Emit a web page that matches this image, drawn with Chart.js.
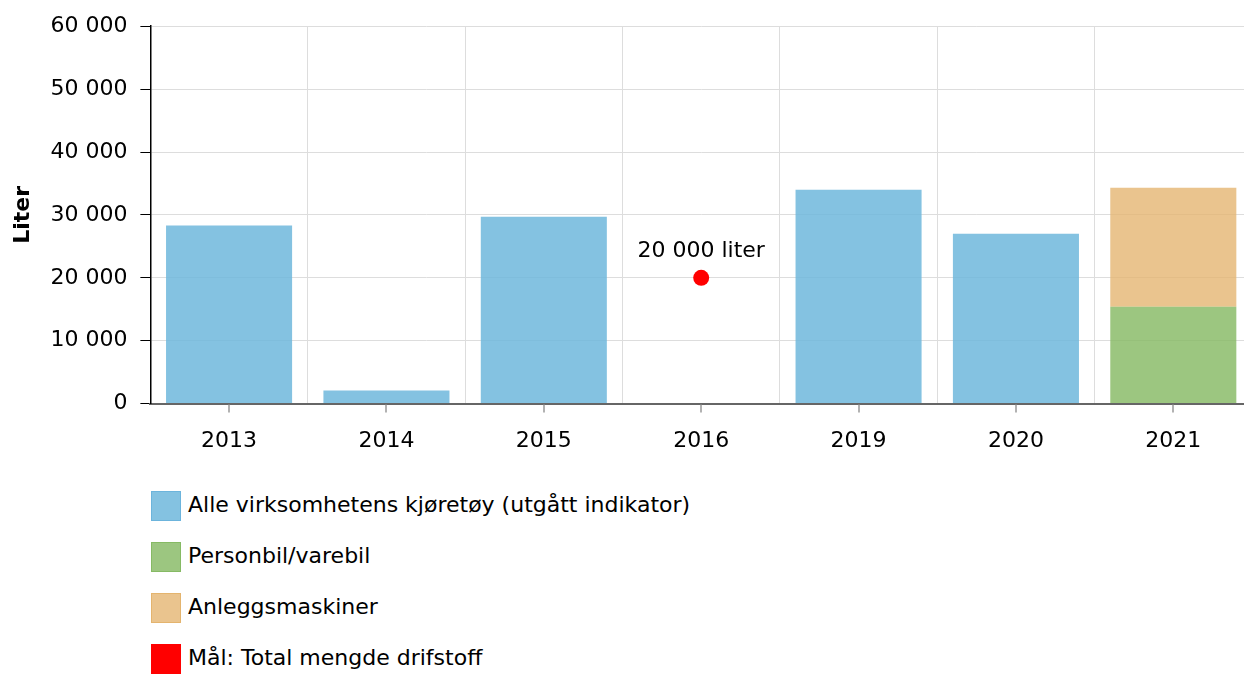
<!DOCTYPE html>
<html>
<head>
<meta charset="utf-8">
<script src="https://cdn.jsdelivr.net/npm/chart.js@4.4.0/dist/chart.umd.min.js"></script>
<style>
    body { margin: 0; background: #fff; font-family: "DejaVu Sans", Verdana, sans-serif; overflow: hidden; }
    #wrap { position: relative; width: 1244px; height: 478px; overflow: hidden; }
    #legend { position: absolute; left: 151px; top: 480px; }
    .item { display: flex; align-items: center; height: 51px; font-size: 22px; color: #000; }
    .item .box { width: 30px; height: 30px; margin-right: 7px; box-sizing: border-box; border: 1.5px solid; }
    .item span { position: relative; top: -1px; }
</style>
</head>
<body>
<div id="wrap"><canvas id="fuelChart" width="1260" height="478"></canvas></div>
<div id="legend"></div>

<script>
const years = ['2013', '2014', '2015', '2016', '2019', '2020', '2021'];
const alleKjoretoy = [28300, 2100, 29700, null, 34000, 27000, null];
const personbil = [null, null, null, null, null, null, 15400];
const anlegg = [null, null, null, null, null, null, 18900];
const maal = [null, null, null, 20000, null, null, null];
const yTicks = [0, 10000, 20000, 30000, 40000, 50000, 60000];

const FONT = '"DejaVu Sans", Verdana, sans-serif';

function fmt(v) {
    return String(v).replace(/\B(?=(\d{3})+(?!\d))/g, ' ');
}

// small tick marks under the x axis, at the middle of each category
const centerTicks = {
    id: 'centerTicks',
    afterDraw(chart) {
        const x = chart.scales.x, ctx = chart.ctx;
        ctx.save();
        ctx.strokeStyle = '#999';
        ctx.lineWidth = 1.5;
        years.forEach((y, i) => {
            const px = Math.round(x.getPixelForValue(i));
            ctx.beginPath();
            ctx.moveTo(px, x.top + 1);
            ctx.lineTo(px, x.top + 9);
            ctx.stroke();
        });
        ctx.restore();
    }
};

// text over the goal point
const goalLabel = {
    id: 'goalLabel',
    afterDatasetsDraw(chart) {
        const meta = chart.getDatasetMeta(3), ctx = chart.ctx;
        ctx.save();
        ctx.font = '22px ' + FONT;
        ctx.fillStyle = '#000';
        ctx.textAlign = 'center';
        ctx.textBaseline = 'alphabetic';
        meta.data.forEach((pt, i) => {
            if (maal[i] == null) return;
            ctx.fillText(fmt(maal[i]) + ' liter', pt.x, pt.y - 21);
        });
        ctx.restore();
    }
};

const ctx = document.getElementById('fuelChart').getContext('2d');
const chart = new Chart(ctx, {
    type: 'bar',
    data: {
        labels: years,
        datasets: [{
            label: 'Alle virksomhetens kjøretøy (utgått indikator)',
            data: alleKjoretoy,
            backgroundColor: 'rgba(110,183,220,0.85)',
            borderColor: '#6cb4dc',
            stack: 'bars',
            order: 1
        }, {
            label: 'Personbil/varebil',
            data: personbil,
            backgroundColor: 'rgba(134,186,100,0.82)',
            borderColor: '#86ba64',
            stack: 'bars',
            order: 1
        }, {
            label: 'Anleggsmaskiner',
            data: anlegg,
            backgroundColor: 'rgba(228,180,110,0.78)',
            borderColor: '#e4b46e',
            stack: 'bars',
            order: 1
        }, {
            type: 'line',
            label: 'Mål: Total mengde drifstoff',
            data: maal,
            showLine: false,
            pointRadius: 8,
            pointHoverRadius: 8,
            pointBackgroundColor: '#ff0000',
            pointBorderWidth: 0,
            backgroundColor: '#ff0000',
            borderColor: '#ff0000',
            stack: 'goal',
            order: 0
        }]
    },
    options: {
        responsive: false,
        animation: false,
        layout: { padding: { top: 18, right: 0, left: 10, bottom: 0 } },
        plugins: {
            legend: { display: false },
            tooltip: { enabled: false }
        },
        datasets: { bar: { barPercentage: 0.89, categoryPercentage: 0.9 } },
        scales: {
            x: {
                stacked: true,
                grid: { offset: true, color: '#dddddd', drawTicks: false },
                border: { color: '#666', width: 2 },
                ticks: { color: '#000', padding: 24, font: { size: 22, family: FONT } }
            },
            y: {
                stacked: true,
                min: 0,
                max: 60000,
                afterBuildTicks(axis) { axis.ticks = yTicks.map(v => ({ value: v })); },
                grid: { color: '#dddddd', tickColor: '#000', tickLength: 10 },
                border: { color: '#000', width: 1.5 },
                ticks: {
                    color: '#000',
                    padding: 13,
                    font: { size: 22, family: FONT },
                    callback: v => fmt(v)
                },
                title: {
                    display: true,
                    text: 'Liter',
                    color: '#000',
                    padding: { top: 0, bottom: 1 },
                    font: { size: 22, weight: 'bold', family: FONT }
                }
            }
        }
    },
    plugins: [centerTicks, goalLabel]
});

// legend as a vertical list under the chart
const legend = document.getElementById('legend');
chart.data.datasets.forEach(ds => {
    const row = document.createElement('div');
    row.className = 'item';
    const box = document.createElement('div');
    box.className = 'box';
    box.style.background = ds.backgroundColor;
    box.style.borderColor = ds.borderColor;
    const txt = document.createElement('span');
    txt.textContent = ds.label;
    row.appendChild(box);
    row.appendChild(txt);
    legend.appendChild(row);
});
</script>
</body>
</html>
